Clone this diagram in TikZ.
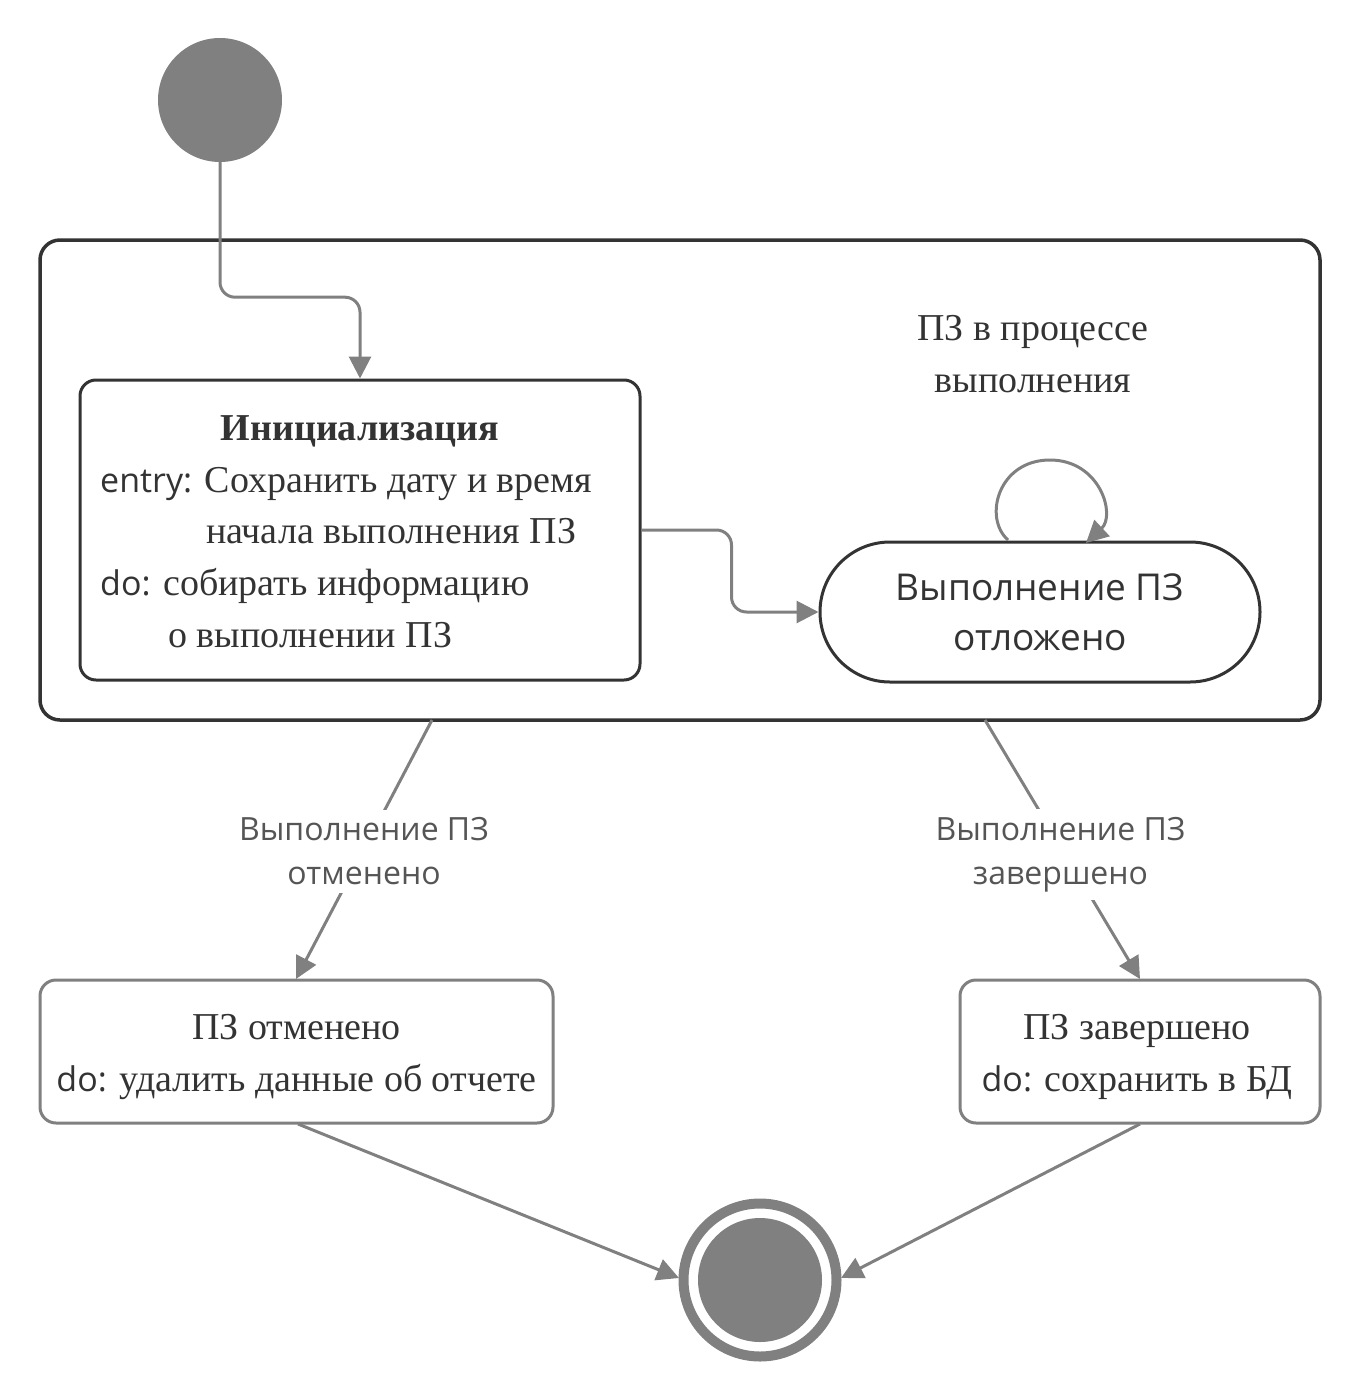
\documentclass[tikz,border=0pt]{standalone}
\usepackage{fontspec}
\setmainfont{Liberation Serif}
\newfontfamily\sansf{Open Sans}
\newcommand{\kw}[1]{{\sansf\fontsize{34}{52}\selectfont #1}}
\usetikzlibrary{arrows.meta,calc}
\definecolor{lnc}{HTML}{808080}
\definecolor{drk}{HTML}{333333}
\definecolor{lbl}{HTML}{555555}
\begin{document}
\begin{tikzpicture}[x=1pt,y=-1pt,
  conn/.style={draw=lnc,line width=3pt,-{Triangle[length=22pt,width=22pt]}},
  serif/.style={text=drk,font=\fontsize{38}{52}\selectfont},
  edgelbl/.style={fill=white,text=lbl,align=center,inner sep=8pt,
    font=\sansf\fontsize{32}{44}\selectfont},
  statebox/.style={draw=drk,line width=3pt,rounded corners=16pt},
  leafbox/.style={draw=lnc,line width=3pt,rounded corners=16pt}]
\useasboundingbox (0,0) rectangle (1360,1400);

% initial pseudo-state
\node (start) [circle,fill=lnc,minimum size=124pt,inner sep=0] at (220,100) {};

% composite state
\node (outer) [statebox,line width=3.5pt,rounded corners=20pt,
  minimum width=1280pt,minimum height=480pt] at (680,480) {};
\node (outerlbl) [serif,align=center] at (1033,354) {ПЗ в процессе\\выполнения};

% initialisation state
\node (initbox) [statebox,minimum width=560pt,minimum height=300pt] at (360,530) {};
\node (t1) [serif,anchor=base,font=\bfseries\fontsize{38}{52}\selectfont] at (360,440) {Инициализация};
\node (t2) [serif,anchor=base west,inner xsep=0] at (100,492) {\kw{entry:} Сохранить дату и время};
\node (t3) [serif,anchor=base west,inner xsep=0] at (206,543) {начала выполнения ПЗ};
\node (t4) [serif,anchor=base west,inner xsep=0] at (100,595) {\kw{do:} собирать информацию};
\node (t5) [serif,anchor=base west,inner xsep=0] at (168,647) {о выполнении ПЗ};

% postponed state
\node (pill) [draw=drk,line width=3pt,rounded corners=70pt,minimum width=440pt,
  minimum height=140pt,align=center,text=drk,
  font=\sansf\fontsize{37}{50}\selectfont] at (1040,612) {Выполнение ПЗ\\отложено};

% end states
\node (cancel) [leafbox,minimum width=513pt,minimum height=143pt] at (296.5,1051.5) {};
\node (canceltxt) [serif,align=center] at (296.5,1057) {ПЗ отменено\\\kw{do:} удалить данные об отчете};
\node (done) [leafbox,minimum width=360pt,minimum height=143pt] at (1140,1051.5) {};
\node (donetxt) [serif,align=center] at (1137,1057) {ПЗ завершено\\\kw{do:} сохранить в БД};

% final pseudo-state
\node (finish) [circle,draw=lnc,line width=10pt,minimum size=153pt,inner sep=0] at (760,1280) {};
\node (finishdot) [circle,fill=lnc,minimum size=124pt,inner sep=0] at (760,1280) {};

% transitions
\draw[conn,rounded corners=15pt] (start.south) -- ++(0,135) -| (initbox.north);
\draw[conn,rounded corners=15pt] (initbox.east) -- ++(90,0) |- (pill.west);
\coordinate (loopa) at (1008,540);
\coordinate (loopb) at (1086,543);
\draw[conn] (loopa) .. controls (983,518) and (998,460) .. (1050,460)
  .. controls (1100,460) and (1116,515) .. (loopb);

\coordinate (cxa) at (432,720);
\coordinate (cxb) at (985,720);
\coordinate (cxc) at (296,979);
\coordinate (cxd) at (1140,979);
\draw[conn] (cxa) -- node[edgelbl,yshift=-2pt] (lab1) {Выполнение ПЗ\\отменено} (cxc);
\draw[conn] (cxb) -- node[edgelbl,yshift=-5pt,xshift=-2pt] (lab2) {Выполнение ПЗ\\завершено} (cxd);

\coordinate (ca) at (298,1124);
\coordinate (cb) at (1140,1124);
\coordinate (fa) at (679,1278);
\coordinate (fb) at (841,1278);
\draw[conn] (ca) -- (fa);
\draw[conn] (cb) -- (fb);
\end{tikzpicture}
\end{document}
